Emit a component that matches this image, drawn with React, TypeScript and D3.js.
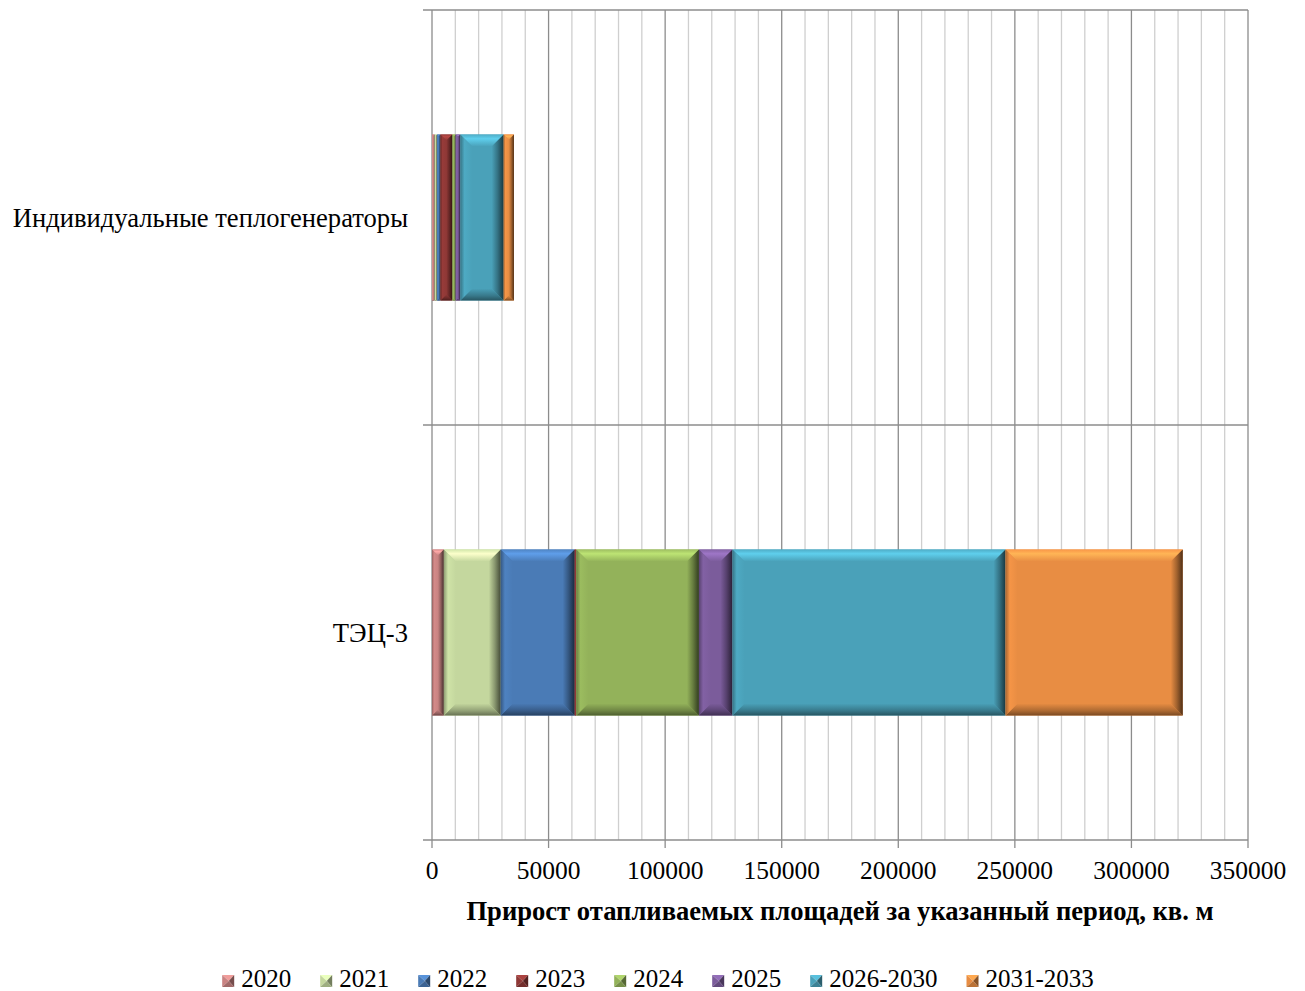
import { useEffect, useRef } from "react";
import * as d3 from "d3";

// категории сверху вниз
const categories = ["Индивидуальные теплогенераторы", "ТЭЦ-3"];
const seriesNames = ["2020", "2021", "2022", "2023", "2024", "2025", "2026-2030", "2031-2033"];
const seriesColors = ["#C98382", "#C4D79E", "#4A7BB6", "#8F3836", "#93B25A", "#7B5C9B", "#4AA1B9", "#E88D43"];

// значения по категориям: [индивидуальные, ТЭЦ-3]
const v2020 = [1150, 5100];
const v2021 = [1000, 24400];
const v2022 = [1450, 31700];
const v2023 = [5150, 700];
const v2024 = [1400, 52600];
const v2025 = [2000, 14400];
const v2026_2030 = [18600, 117100];
const v2031_2033 = [4400, 76000];
const seriesValues = [v2020, v2021, v2022, v2023, v2024, v2025, v2026_2030, v2031_2033];

const xTicks = [0, 50000, 100000, 150000, 200000, 250000, 300000, 350000];
const axisTitle = "Прирост отапливаемых площадей за указанный период, кв. м";

const W = 1305;
const H = 991;
const FONT = "'Liberation Serif', 'Times New Roman', serif";

export default function App() {
  const svgRef = useRef<SVGSVGElement>(null);

  useEffect(() => {
    if (!svgRef.current) return;
    const svg = d3.select(svgRef.current);
    svg.selectAll("*").remove();

    const plot = { left: 432, right: 1248, top: 10, bottom: 840 };

    const x = d3.scaleLinear().domain([0, 350000]).range([plot.left, plot.right]);
    const y = d3.scaleBand().domain(categories).range([plot.top, plot.bottom]).padding(0);
    const barH = y.bandwidth() * 0.4;

    const rows = categories.map((c, i) => {
      const r: Record<string, any> = { cat: c };
      seriesNames.forEach((s, j) => (r[s] = seriesValues[j][i]));
      return r;
    });
    const stacked = d3.stack<any>().keys(seriesNames)(rows);

    // градиенты для эффекта рельефа
    const defs = svg.append("defs");
    seriesColors.forEach((c, i) => {
      const base = d3.color(c)!;
      const mk = (id: string, vertical: boolean, stops: [number, string][]) => {
        const gr = defs
          .append("linearGradient")
          .attr("id", `${id}${i}`)
          .attr("x1", 0)
          .attr("y1", 0)
          .attr("x2", vertical ? 0 : 1)
          .attr("y2", vertical ? 1 : 0);
        stops.forEach(([o, col]) => gr.append("stop").attr("offset", o).attr("stop-color", col));
      };
      mk("bt", true, [
        [0, base.brighter(0.2).formatHex()],
        [0.35, base.brighter(0.7).formatHex()],
        [1, base.formatHex()],
      ]);
      mk("bb", true, [
        [0, base.formatHex()],
        [0.6, base.darker(0.8).formatHex()],
        [1, base.darker(1.8).formatHex()],
      ]);
      mk("bl", false, [
        [0, base.darker(0.9).formatHex()],
        [0.35, base.brighter(0.15).formatHex()],
        [1, base.formatHex()],
      ]);
      mk("br", false, [
        [0, base.formatHex()],
        [0.5, base.darker(1).formatHex()],
        [1, base.darker(3).formatHex()],
      ]);
    });

    const bevel = (
      g: d3.Selection<SVGGElement, unknown, null, undefined>,
      x0: number,
      x1: number,
      y0: number,
      y1: number,
      i: number,
      b: number
    ) => {
      const w = x1 - x0;
      const h = y1 - y0;
      if (w <= 0) return;
      const bb = Math.min(b, w / 2, h / 2);
      g.append("rect").attr("x", x0).attr("y", y0).attr("width", w).attr("height", h).attr("fill", seriesColors[i]);
      const poly = (pts: [number, number][], fill: string) =>
        g.append("polygon").attr("points", pts.map((p) => p.join(",")).join(" ")).attr("fill", fill);
      poly([[x0, y0], [x1, y0], [x1 - bb, y0 + bb], [x0 + bb, y0 + bb]], `url(#bt${i})`);
      poly([[x0 + bb, y1 - bb], [x1 - bb, y1 - bb], [x1, y1], [x0, y1]], `url(#bb${i})`);
      poly([[x0, y0], [x0 + bb, y0 + bb], [x0 + bb, y1 - bb], [x0, y1]], `url(#bl${i})`);
      poly([[x1 - bb, y0 + bb], [x1, y0], [x1, y1], [x1 - bb, y1 - bb]], `url(#br${i})`);
    };

    // сетка
    const grid = svg.append("g");
    d3.range(0, 350001, 10000).forEach((t) => {
      const major = t % 50000 === 0;
      grid
        .append("line")
        .attr("x1", x(t))
        .attr("x2", x(t))
        .attr("y1", plot.top)
        .attr("y2", major ? plot.bottom + 8 : plot.bottom)
        .attr("stroke", major ? "#8C8C8C" : "#CFCFCF")
        .attr("stroke-width", 1.3);
    });
    const bounds = [plot.top, ...categories.map((c) => (y(c) || 0) + y.bandwidth())];
    bounds.forEach((b) => {
      grid
        .append("line")
        .attr("x1", plot.left - 9)
        .attr("x2", plot.right)
        .attr("y1", b)
        .attr("y2", b)
        .attr("stroke", "#8C8C8C")
        .attr("stroke-width", 1.3);
    });

    // столбики
    const bars = svg.append("g");
    stacked.forEach((layer, i) => {
      layer.forEach((d, k) => {
        const cy = (y(categories[k]) || 0) + y.bandwidth() / 2;
        bevel(bars, x(d[0]), x(d[1]), cy - barH / 2, cy + barH / 2, i, 12);
      });
    });

    // подписи оси X
    svg
      .append("g")
      .selectAll("text")
      .data(xTicks)
      .enter()
      .append("text")
      .attr("x", (d) => x(d))
      .attr("y", 879)
      .attr("text-anchor", "middle")
      .attr("font-family", FONT)
      .attr("font-size", 25.5)
      .attr("fill", "#000")
      .text((d) => String(d));

    svg
      .append("text")
      .attr("x", (plot.left + plot.right) / 2)
      .attr("y", 920)
      .attr("text-anchor", "middle")
      .attr("font-family", FONT)
      .attr("font-size", 26.6)
      .attr("font-weight", "bold")
      .attr("fill", "#000")
      .text(axisTitle);

    // категории
    svg
      .append("g")
      .selectAll("text")
      .data(categories)
      .enter()
      .append("text")
      .attr("x", 408)
      .attr("y", (d) => (y(d) || 0) + y.bandwidth() / 2 + 9)
      .attr("text-anchor", "end")
      .attr("font-family", FONT)
      .attr("font-size", 26.6)
      .attr("fill", "#000")
      .text((d) => d);

    // легенда
    const leg = svg.append("g");
    const box = 12;
    const gap = 7;
    const spacing = 29;
    const items = seriesNames.map((s, i) => {
      const gi = leg.append("g");
      const t = gi
        .append("text")
        .attr("font-family", FONT)
        .attr("font-size", 25)
        .attr("fill", "#000")
        .attr("y", 987)
        .text(s);
      const tw = (t.node() as SVGTextElement).getComputedTextLength();
      return { gi, t, tw, i };
    });
    const total = d3.sum(items, (d) => box + gap + d.tw) + spacing * (items.length - 1);
    let cx = 658 - total / 2;
    items.forEach(({ gi, t, tw, i }) => {
      const x0 = cx;
      const y0 = 975;
      const base = d3.color(seriesColors[i])!;
      const m = [x0 + box * 0.55, y0 + box / 2];
      const tri = (pts: number[][], col: string) =>
        gi.append("polygon").attr("points", pts.map((p) => p.join(",")).join(" ")).attr("fill", col);
      tri([[x0, y0], [x0 + box, y0], m], base.brighter(0.5).formatHex());
      tri([[x0, y0], m, [x0, y0 + box]], base.formatHex());
      tri([[x0 + box, y0], [x0 + box, y0 + box], m], base.darker(1.5).formatHex());
      tri([[x0, y0 + box], m, [x0 + box, y0 + box]], base.darker(0.6).formatHex());
      t.attr("x", x0 + box + gap);
      cx += box + gap + tw + spacing;
    });
  }, []);

  return (
    <svg
      ref={svgRef}
      width={W}
      height={H}
      viewBox={`0 0 ${W} ${H}`}
      style={{ position: "absolute", left: 0, top: 0, background: "#fff" }}
    />
  );
}
